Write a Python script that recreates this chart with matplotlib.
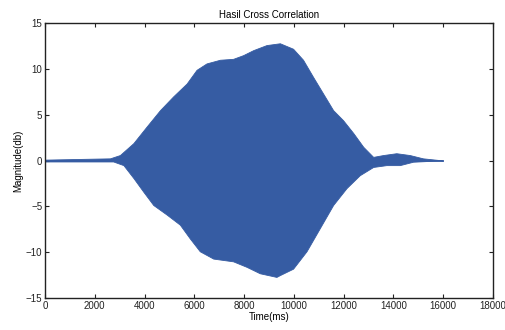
import matplotlib
matplotlib.use("Agg")
import matplotlib.pyplot as plt
import numpy as np

plt.rcParams['font.family'] = ['Liberation Sans', 'DejaVu Sans']

# Envelope of the cross-correlation signal
upper_t = [0, 2610, 3010, 3550, 4080, 4620, 5150, 5690, 6090, 6490, 7030, 7560,
           7960, 8370, 8900, 9440, 9970, 10370, 10780, 11180, 11580, 11980,
           12390, 12790, 13190, 13590, 14120, 14660, 15190, 15860, 16000]
upper_v = [0.1, 0.24, 0.6, 1.9, 3.7, 5.5, 7.0, 8.4, 9.9, 10.6, 11.0, 11.1,
           11.5, 12.05, 12.6, 12.8, 12.2, 11.0, 9.1, 7.3, 5.5, 4.4,
           3.0, 1.5, 0.4, 0.6, 0.8, 0.6, 0.24, 0.05, 0.0]
lower_t = [0, 2740, 3150, 3550, 3950, 4350, 4890, 5420, 5820, 6220, 6760, 7560,
           8100, 8630, 9300, 9440, 9970, 10510, 11040, 11580, 12120, 12650,
           13190, 13720, 14260, 14790, 15600, 16000]
lower_v = [-0.1, -0.1, -0.5, -1.9, -3.4, -4.85, -5.9, -7.0, -8.5, -9.9, -10.7, -11.0,
           -11.6, -12.3, -12.7, -12.5, -11.8, -9.9, -7.4, -4.85, -3.0, -1.6,
           -0.7, -0.5, -0.5, -0.13, -0.02, 0.0]

xticks = [0, 2000, 4000, 6000, 8000, 10000, 12000, 14000, 16000, 18000]
yticks = [-15, -10, -5, 0, 5, 10, 15]

fig = plt.figure(figsize=(5.06, 3.30), dpi=100)
ax = fig.add_axes([0.089, 0.097, 0.885, 0.833])

color = '#365ca3'
t_all = np.union1d(upper_t, lower_t)
up = np.interp(t_all, upper_t, upper_v)
lo = np.interp(t_all, lower_t, lower_v)
ax.fill_between(t_all, lo, up, color=color, linewidth=0.6, edgecolor=color)
ax.plot([0, 16000], [0, 0], color=color, linewidth=1.2)

ax.set_xlim(0, 18000)
ax.set_ylim(-15, 15)
ax.set_xticks(xticks)
ax.set_yticks(yticks)
ax.tick_params(direction='in', length=3, labelsize=7, top=True, right=True,
               pad=2, colors='#222222')
for s in ax.spines.values():
    s.set_color('#222222')
    s.set_linewidth(1.0)
ax.set_title('Hasil Cross Correlation', fontsize=7, pad=4)
ax.set_xlabel('Time(ms)', fontsize=7, labelpad=1)
ax.set_ylabel('Magnitude(db)', fontsize=7, labelpad=2)

fig.savefig('out.png', dpi=100)
